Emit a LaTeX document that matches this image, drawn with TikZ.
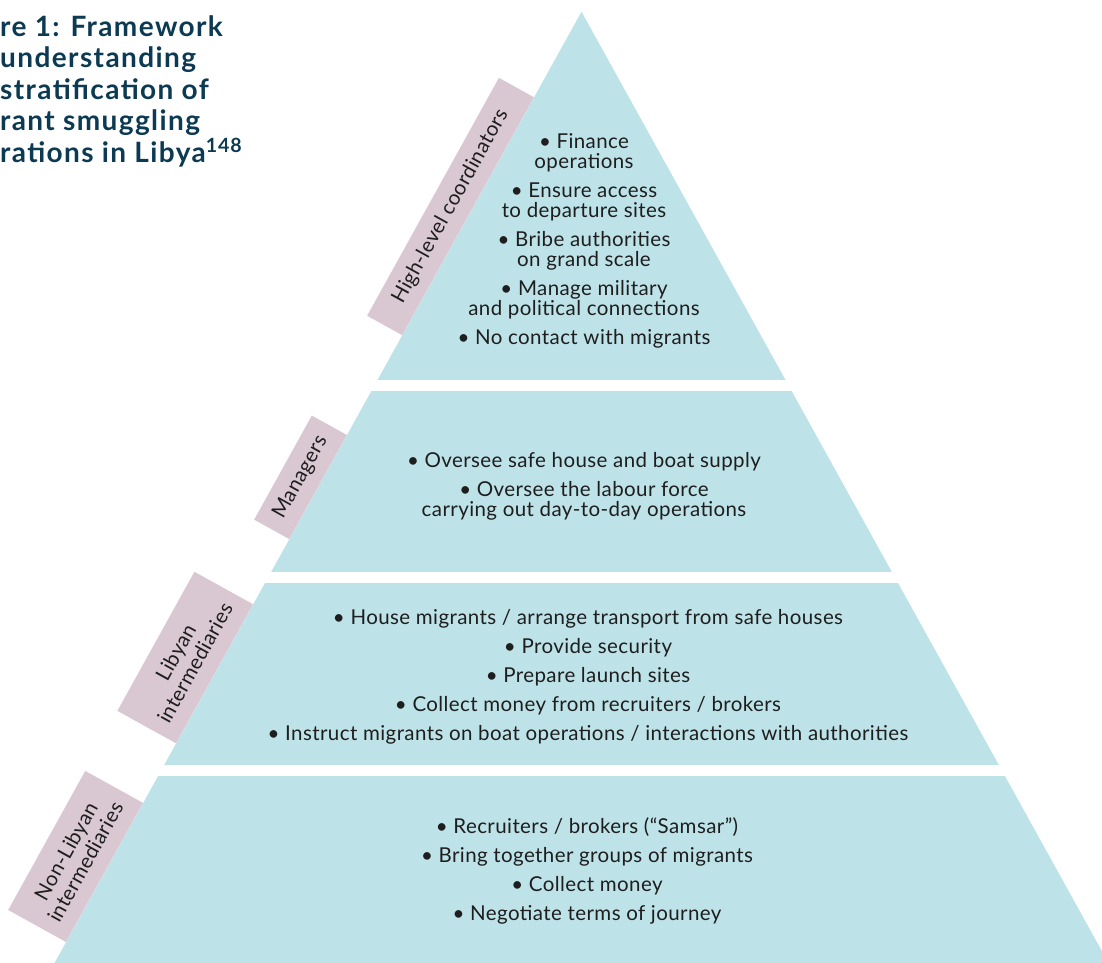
\documentclass[tikz,border=0pt]{standalone}
\usepackage{fontspec}
\setmainfont{Lato}[LetterSpace=2]
\definecolor{TierBlue}{HTML}{BDE2E8}
\definecolor{LabelMauve}{HTML}{D9C8D1}
\definecolor{TitleNavy}{HTML}{0B3A52}
\definecolor{BodyInk}{HTML}{1E1E1E}
\tikzset{
	tier/.style={fill=TierBlue},
	lbl/.style={fill=LabelMauve,text=BodyInk,inner sep=0pt,align=center,font=\fontsize{20.5}{22}\selectfont,sloped,above},
	bullets/.style={text=BodyInk,align=center,inner sep=0pt,font=\fontsize{20.5}{20}\selectfont},
	title/.style={text=TitleNavy,align=left,inner sep=0pt,font=\bfseries\fontsize{28}{31.5}\selectfont\addfontfeatures{LetterSpace=5}}
}

\begin{document}
\begin{tikzpicture}[x=1pt,y=-1pt]
		\useasboundingbox (0,0) rectangle (1102,962);
		\clip (0,0) rectangle (1102,962);
		\coordinate (apex) at (581.5,11.7);
		\coordinate (bl) at (34,1000);
		\coordinate (br) at (1129,1000);
		\begin{scope}
			\clip (apex) -- (bl) -- (br) -- cycle;
			\foreach \ya/\yb in {0/380,391/572,583/765,776/1000}
				\fill[tier] (0,\ya) rectangle (1102,\yb);
		\end{scope}
		\path (bl) -- (apex)
			node[lbl,pos=0.129,minimum width=159pt,minimum height=66pt] (nonlib) {Non-Libyan\\intermediaries}
			node[lbl,pos=0.330,minimum width=159pt,minimum height=67pt] (lib) {Libyan\\intermediaries}
			node[lbl,pos=0.519,minimum width=119pt,minimum height=40pt] (mgr) {Managers}
			node[lbl,pos=0.793,minimum width=272pt,minimum height=40pt] (coord) {High-level coordinators};
		\node[bullets] (coordtxt) at (584,241) {\textbullet{} Finance\\operations\\[9pt]\textbullet{} Ensure access\\to departure sites\\[9pt]\textbullet{} Bribe authorities\\on grand scale\\[9pt]\textbullet{} Manage military\\and political connections\\[9pt]\textbullet{} No contact with migrants};
		\node[bullets] (mgrtxt) at (584,486) {\textbullet{} Oversee safe house and boat supply\\[9pt]\textbullet{} Oversee the labour force\\carrying out day-to-day operations};
		\node[bullets] (libtxt) at (588,677) {\textbullet{} House migrants / arrange transport from safe houses\\[9pt]\textbullet{} Provide security\\[9pt]\textbullet{} Prepare launch sites\\[9pt]\textbullet{} Collect money from recruiters / brokers\\[9pt]\textbullet{} Instruct migrants on boat operations / interactions with authorities};
		\node[bullets] (nonlibtxt) at (587,871) {\textbullet{} Recruiters / brokers (“Samsar”)\\[9pt]\textbullet{} Bring together groups of migrants\\[9pt]\textbullet{} Collect money\\[9pt]\textbullet{} Negotiate terms of journey};
		\node[title,anchor=north west] (title) at (0,15) {re 1: Framework\\understanding\\stratification of\\rant smuggling\\rations in Libya\textsuperscript{148}};
\end{tikzpicture}
\end{document}
